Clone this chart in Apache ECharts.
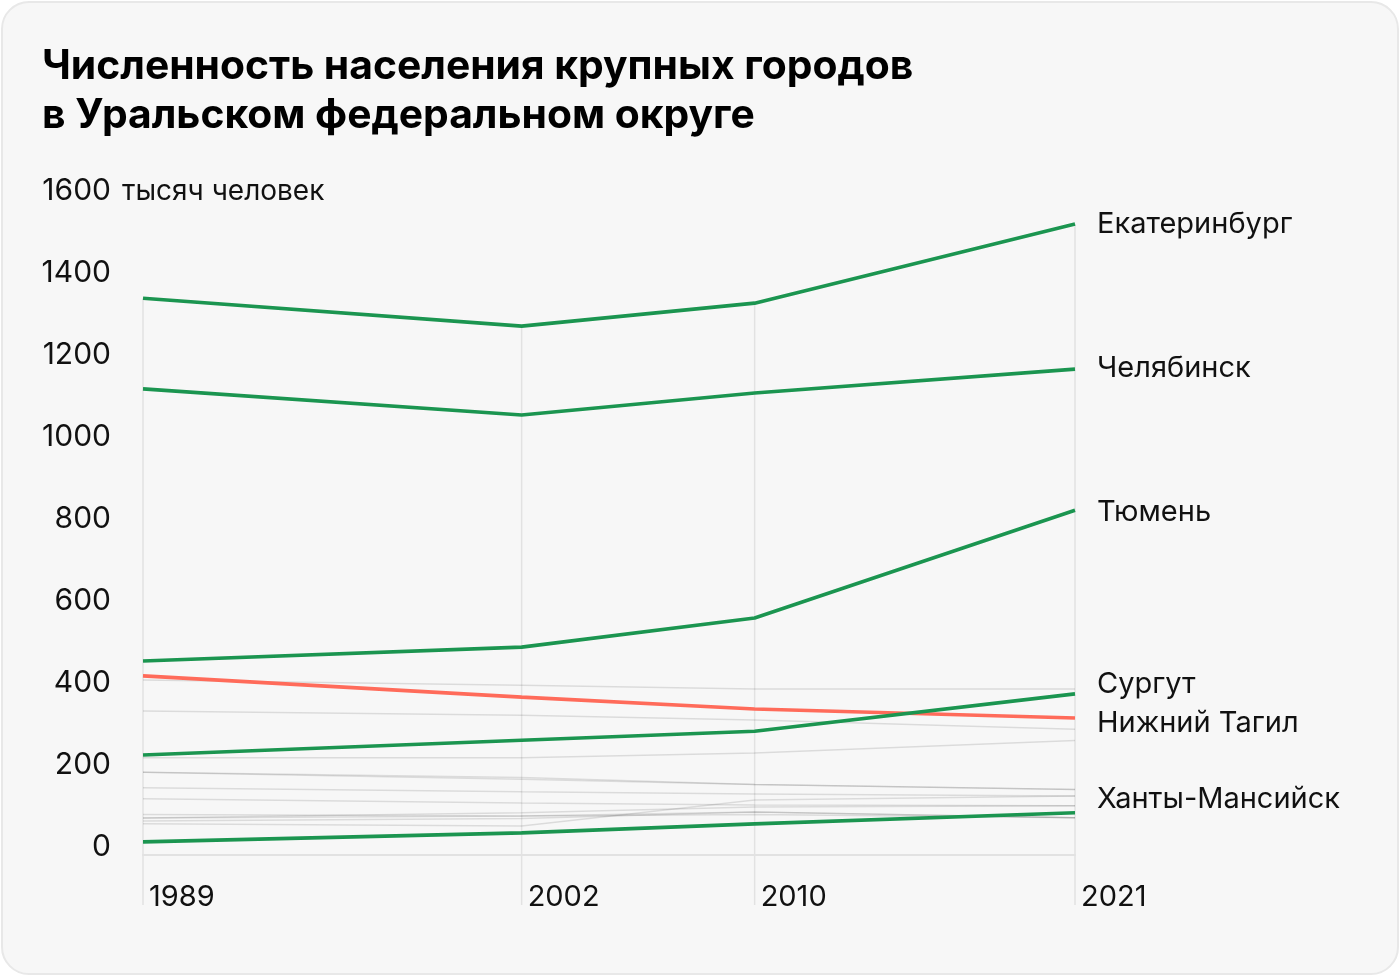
<!DOCTYPE html>
<html>
<head>
<meta charset="utf-8">
<script src="https://cdn.jsdelivr.net/npm/echarts@6/dist/echarts.min.js"></script>
<style>
  html, body { margin: 0; padding: 0; background: #ffffff; }
  #card { position: absolute; left: 1px; top: 1px; width: 1394px; height: 970px;
          border: 2px solid #e8e8e8; border-radius: 28px; background: #f7f7f7; }
  #chart { position: absolute; left: 0; top: 0; width: 1400px; height: 976px; }
</style>
</head>
<body>
<div id="card"></div>
<div id="chart"></div>
<script>
// ---- data (thousand people) ----
const years = [1989, 2002, 2010, 2021];
const yTicks = [0, 200, 400, 600, 800, 1000, 1200, 1400, 1600];
const unitLabel = 'тысяч человек';
const titleText = 'Численность населения крупных городов\nв Уральском федеральном округе';

// highlighted cities
const ekaterinburg = [1358, 1290, 1346, 1539];
const chelyabinsk  = [1137, 1073, 1127, 1185];
const tyumen       = [473, 507, 578, 841];
const surgut       = [244, 280, 302, 393];
const nizhnyTagil  = [437, 385, 356, 334];
const khantyMansiysk = [32, 54, 76, 103];

// other large cities (grey)
const otherNames = ['Магнитогорск', 'Курган', 'Нижневартовск', 'Каменск-Уральский', 'Златоуст',
  'Миасс', 'Первоуральск', 'Копейск', 'Нефтеюганск', 'Новый Уренгой', 'Ноябрьск', 'Тобольск'];
const magnitogorsk = [427, 414, 405, 405];
const kurgan       = [351, 341, 329, 307];
const nizhnevartovsk = [237, 237, 249, 279];
const kamensk      = [202, 189, 172, 160];
const zlatoust     = [202, 185, 172, 160];
const miass        = [164, 154, 149, 144];
const pervouralsk  = [137, 127, 122, 120];
const kopeysk      = [76, 71, 134, 144];
const nefteyugansk = [90, 103, 117, 120];
const novyUrengoy  = [90, 95, 105, 91];
const noyabrsk     = [83, 89, 105, 91];
const tobolsk      = [99, 95, 99, 91];
const otherValues = [magnitogorsk, kurgan, nizhnevartovsk, kamensk, zlatoust, miass,
  pervouralsk, kopeysk, nefteyugansk, novyUrengoy, noyabrsk, tobolsk];

const mainNames = ['Екатеринбург', 'Челябинск', 'Тюмень', 'Сургут', 'Нижний Тагил', 'Ханты-Мансийск'];
const mainValues = [ekaterinburg, chelyabinsk, tyumen, surgut, nizhnyTagil, khantyMansiysk];

// ---- build ----
const GREEN = '#1b9550';
const RED = '#ff6b5a';
const FONT = 'Inter, Roboto, sans-serif';
const pairs = v => years.map((y, i) => [y, v[i]]);

const allValues = mainValues.concat(otherValues);
const yearMax = years.map((y, i) => [y, Math.max(...allValues.map(v => v[i]))]);

const labelOffsets = { 'Екатеринбург': [0, 0], 'Челябинск': [0, -1], 'Тюмень': [0, 2],
  'Сургут': [0, -10], 'Нижний Тагил': [0, 5], 'Ханты-Мансийск': [0, -13] };

const series = [];
// vertical year lines
series.push({
  type: 'custom', silent: true, clip: false, z: 1,
  data: yearMax,
  renderItem: (params, api) => {
    const top = api.coord([api.value(0), api.value(1)]);
    const base = api.coord([api.value(0), 0]);
    return { type: 'line', shape: { x1: top[0], y1: top[1], x2: base[0], y2: base[1] + 50 },
      style: { stroke: '#e2e2e2', lineWidth: 1.5 } };
  }
});
otherValues.forEach((v, k) => series.push({
  name: otherNames[k], type: 'line', data: pairs(v), symbol: 'none', silent: true, z: 2,
  lineStyle: { color: 'rgba(0,0,0,0.11)', width: 1.5 }
}));
mainValues.forEach((v, k) => {
  const name = mainNames[k];
  series.push({
    name, type: 'line', data: pairs(v), symbol: 'none', silent: true,
    z: name === 'Нижний Тагил' ? 3 : 4,
    lineStyle: { color: name === 'Нижний Тагил' ? RED : GREEN, width: 3.6 },
    endLabel: { show: true, formatter: name, distance: 22, offset: labelOffsets[name],
      color: '#111', fontSize: 29, fontFamily: FONT }
  });
});

const chart = echarts.init(document.getElementById('chart'), null, { renderer: 'canvas' });
chart.setOption({
  backgroundColor: 'transparent',
  animation: false,
  title: [
    { text: titleText, left: 37, top: 37,
      textStyle: { fontFamily: FONT, fontSize: 40.8, fontWeight: 'bold', lineHeight: 49, color: '#000' } },
    { text: unitLabel, left: 117, top: 173,
      textStyle: { fontFamily: FONT, fontSize: 28, fontWeight: 'normal', color: '#111' } }
  ],
  grid: { left: 143, right: 325, top: 199, bottom: 121 },
  xAxis: {
    type: 'value', min: years[0], max: years[years.length - 1],
    splitLine: { show: false },
    axisLine: { show: true, lineStyle: { color: '#e2e2e2', width: 2 } },
    axisTick: { show: false },
    axisLabel: { customValues: years, formatter: v => String(v), align: 'left', padding: [0, 0, 0, 6],
      margin: 28, verticalAlign: 'top', color: '#111', fontSize: 29, fontFamily: FONT,
      showMinLabel: true, showMaxLabel: true }
  },
  yAxis: {
    type: 'value', min: 0, max: 1600, interval: 200,
    splitLine: { show: false }, axisLine: { show: false }, axisTick: { show: false },
    axisLabel: { customValues: yTicks, formatter: v => String(v), align: 'right', margin: 32,
      verticalAlign: 'bottom', lineHeight: 16,
      color: '#111', fontSize: 30, fontFamily: FONT }
  },
  series
});
</script>
</body>
</html>
